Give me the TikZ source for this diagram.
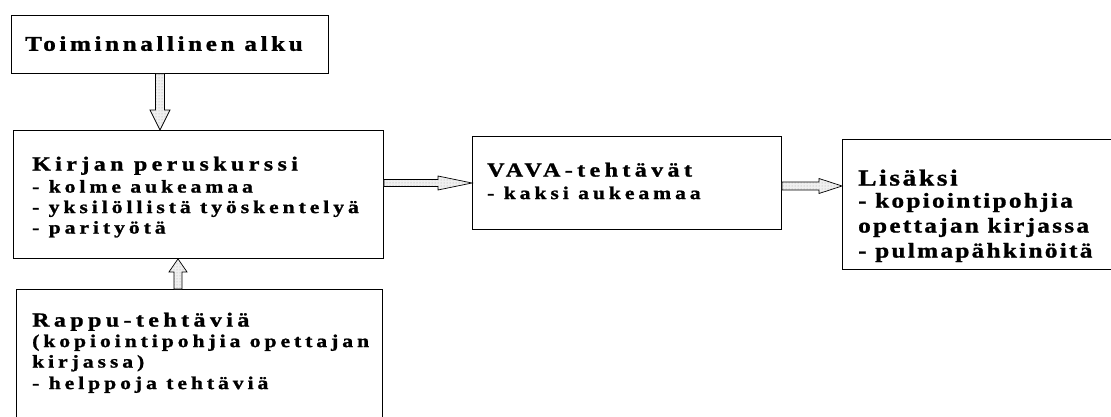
\documentclass[tikz,border=0pt]{standalone}
\usepackage{fontspec}
\setmainfont{Liberation Serif}
\newfontfamily\spacedA[LetterSpace=22, FakeStretch=1.2, BoldFeatures={FakeBold=1.2}]{Liberation Serif}
\newfontfamily\spacedT[LetterSpace=17, FakeStretch=1.2, BoldFeatures={FakeBold=1.2}]{Liberation Serif}
\newfontfamily\spacedB[LetterSpace=11, FakeStretch=1.2, BoldFeatures={FakeBold=1.2}]{Liberation Serif}
\usetikzlibrary{calc,patterns}

\tikzset{
  box/.style={draw=black, line width=0.9pt, rectangle, inner sep=0pt, anchor=north west},
  boxtext/.style={inner sep=0pt, anchor=north west, align=left,
    font=\spacedA\bfseries\fontsize{18}{20.5}\selectfont},
  titletext/.style={inner sep=0pt, anchor=north west, align=left,
    font=\spacedT\bfseries\fontsize{21}{24}\selectfont},
  boxtextwide/.style={inner sep=0pt, anchor=north west, align=left,
    font=\spacedB\bfseries\fontsize{21}{25}\selectfont},
  blockarrow/.style={draw=black, line width=0.7pt, preaction={fill=gray!12},
    pattern=dots, pattern color=gray!70, line join=miter},
}

% hollow block arrow: from, to, shaft half width, head half width, head length
\newcommand\hollowarrow[5]{%
  \coordinate (hb) at ($(#2)!#5!(#1)$);
  \draw[blockarrow] ($(#1)!#3!90:(#2)$) -- ($(hb)!#3!90:(#2)$) -- ($(hb)!#4!90:(#2)$)
    -- (#2) -- ($(hb)!#4!-90:(#2)$) -- ($(hb)!#3!-90:(#2)$) -- ($(#1)!#3!-90:(#2)$) -- cycle;}

\newcommand\headline[1]{{\fontsize{20}{22}\selectfont #1}}

\begin{document}
\begin{tikzpicture}[x=1pt, y=-1pt]
\useasboundingbox (0,0) rectangle (1111,417);

% frames
\node[box, minimum width=317pt, minimum height=58pt]  (b1) at (11,15)  {};
\node[box, minimum width=370pt, minimum height=128pt] (b2) at (13,130) {};
\node[box, minimum width=366pt, minimum height=140pt] (b3) at (16,289) {};
\node[box, minimum width=309pt, minimum height=93pt]  (b4) at (472,136) {};
\node[box, minimum width=280pt, minimum height=130pt] (b5) at (842,139) {};

% texts
\node[titletext] (t1) at (25,36) {Toiminnallinen alku};
\node[boxtext] (t2) at (32,156.5) {\headline{Kirjan peruskurssi}\\[1.5pt]
  - kolme aukeamaa\\
  - yksilöllistä työskentelyä\\
  - parityötä};
\node[boxtext] (t3) at (32,312.5) {\headline{Rappu-tehtäviä}\\
  (kopiointipohjia opettajan\\
  kirjassa)\\[1pt]
  - helppoja tehtäviä};
\node[boxtext] (t4) at (487,162.5) {\headline{VAVA-tehtävät}\\[2pt]
  - kaksi aukeamaa};
\node[boxtextwide] (t5) at (858,169.4) {{\fontsize{23}{25}\selectfont Lisäksi}\\[-3pt]
  - kopiointipohjia\\
  opettajan kirjassa\\
  - pulmapähkinöitä};

% connectors
\coordinate (d1s) at ($(b1.south west)+(149,0)$);
\coordinate (d1e) at (d1s |- b2.north);
\coordinate (u1s) at ($(b3.north west)+(162,0)$);
\coordinate (u1e) at (u1s |- b2.south);
\coordinate (r1s) at ($(b2.north east)+(0,53)$);
\coordinate (r1e) at (r1s -| b4.west);
\coordinate (r2s) at ($(b4.north east)+(0,50)$);
\coordinate (r2e) at (r2s -| b5.west);

\hollowarrow{d1s}{d1e}{4.5pt}{10pt}{20pt}
\hollowarrow{u1s}{u1e}{4pt}{9pt}{13pt}
\hollowarrow{r1s}{r1e}{3.5pt}{7pt}{34pt}
\hollowarrow{r2s}{r2e}{4pt}{7.5pt}{23pt}
\end{tikzpicture}
\end{document}
